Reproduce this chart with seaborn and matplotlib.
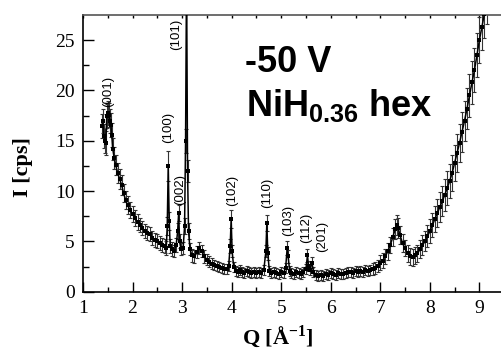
import matplotlib
matplotlib.use("Agg")
import matplotlib.pyplot as plt
import seaborn as sns
import numpy as np
import pandas as pd

# ---------------- data ----------------
q = [1.38, 1.40, 1.42, 1.44, 1.46, 1.48, 1.50, 1.52, 1.54, 1.56, 1.58, 1.60,
     1.63, 1.66, 1.70, 1.74, 1.78, 1.82, 1.86, 1.90, 1.95, 2.00, 2.05, 2.10,
     2.15, 2.20, 2.25, 2.30, 2.35, 2.40, 2.45, 2.50, 2.55, 2.60, 2.65, 2.68,
     2.70, 2.72, 2.74, 2.76, 2.80, 2.84, 2.88, 2.91, 2.93, 2.95, 2.98, 3.02,
     3.05, 3.07, 3.09, 3.11, 3.13, 3.16, 3.20, 3.25, 3.30, 3.35, 3.40, 3.45,
     3.50, 3.55, 3.60, 3.65, 3.70, 3.75, 3.80, 3.85, 3.90, 3.94, 3.97, 3.99,
     4.01, 4.04, 4.08, 4.12, 4.16, 4.20, 4.25, 4.30, 4.35, 4.40, 4.45, 4.50,
     4.55, 4.60, 4.65, 4.69, 4.71, 4.73, 4.76, 4.80, 4.85, 4.90, 4.95, 5.00,
     5.05, 5.09, 5.12, 5.14, 5.17, 5.20, 5.25, 5.30, 5.35, 5.40, 5.45, 5.50,
     5.53, 5.55, 5.58, 5.62, 5.65, 5.70, 5.75, 5.80, 5.85, 5.90, 5.95, 6.00,
     6.05, 6.10, 6.15, 6.20, 6.25, 6.30, 6.35, 6.40, 6.45, 6.50, 6.55, 6.60,
     6.65, 6.70, 6.75, 6.80, 6.85, 6.90, 6.95, 7.00, 7.05, 7.10, 7.15, 7.20,
     7.25, 7.30, 7.33, 7.36, 7.40, 7.45, 7.50, 7.55, 7.60, 7.65, 7.70, 7.75,
     7.80, 7.85, 7.90, 7.95, 8.00, 8.05, 8.10, 8.15, 8.20, 8.25, 8.30, 8.35,
     8.40, 8.45, 8.50, 8.55, 8.60, 8.65, 8.70, 8.75, 8.80, 8.85, 8.90, 8.95,
     9.00, 9.05, 9.10, 9.15, 9.20]

intensity = [16.5, 17.0, 15.5, 15.0, 14.8, 17.5, 17.8, 17.6, 17.0, 16.6, 15.6, 14.2,
     13.3, 12.6, 11.8, 11.2, 10.6, 9.8, 9.1, 8.6, 8.1, 7.7, 7.3, 6.9,
     6.6, 6.3, 6.0, 5.8, 5.7, 5.3, 5.1, 5.0, 4.8, 4.6, 4.5, 4.3,
     6.5, 12.5, 7.0, 4.5, 4.2, 4.0, 4.6, 6.0, 7.8, 5.0, 4.2, 4.3,
     6.5, 15.0, 32.0, 12.0, 6.0, 4.2, 3.6, 3.5, 3.9, 4.3, 4.0, 3.5,
     3.2, 3.0, 2.8, 2.7, 2.6, 2.5, 2.4, 2.3, 2.3, 2.6, 4.5, 7.2,
     4.0, 2.5, 2.1, 2.0, 2.2, 2.0, 1.9, 2.1, 2.0, 1.9, 2.0, 1.9,
     2.0, 1.9, 2.2, 4.0, 6.8, 3.8, 2.1, 1.9, 2.0, 1.9, 1.8, 2.0,
     1.9, 2.4, 4.3, 3.5, 2.1, 1.9, 1.8, 2.0, 1.9, 1.8, 2.0, 2.3,
     3.6, 2.6, 2.2, 2.9, 2.0, 1.7, 1.6, 1.7, 1.6, 1.8, 1.7, 1.9,
     1.8, 1.7, 1.9, 1.8, 1.8, 1.9, 2.0, 2.0, 1.9, 2.1, 2.0, 2.1,
     2.0, 2.2, 2.1, 2.2, 2.3, 2.4, 2.6, 2.9, 3.1, 3.5, 4.0, 4.6,
     5.4, 6.2, 6.6, 6.3, 5.6, 4.8, 4.3, 3.8, 3.5, 3.4, 3.6, 3.8,
     4.2, 4.6, 5.0, 5.5, 6.0, 6.6, 7.2, 7.8, 8.4, 9.0, 9.6, 10.3,
     11.0, 11.8, 12.8, 13.8, 14.8, 15.9, 17.0, 18.2, 19.5, 20.8, 22.0, 23.5,
     25.0, 26.3, 27.6, 29.0, 30.5]

err = [1.2, 1.2, 1.2, 1.2, 1.2, 1.2, 1.2, 1.2, 1.2, 1.2, 1.2, 1.1,
     1.1, 1.0, 1.0, 1.0, 1.0, 0.9, 0.9, 0.9, 0.8, 0.8, 0.8, 0.8,
     0.7, 0.7, 0.7, 0.7, 0.7, 0.7, 0.7, 0.7, 0.7, 0.7, 0.7, 0.7,
     0.9, 1.5, 0.9, 0.7, 0.7, 0.6, 0.7, 0.8, 0.8, 0.7, 0.6, 0.6,
     0.8, 1.2, 1.8, 1.1, 0.8, 0.6, 0.6, 0.6, 0.6, 0.6, 0.6, 0.6,
     0.5, 0.5, 0.5, 0.5, 0.5, 0.5, 0.5, 0.5, 0.5, 0.5, 0.7, 0.9,
     0.6, 0.5, 0.5, 0.5, 0.5, 0.5, 0.5, 0.5, 0.5, 0.5, 0.5, 0.5,
     0.5, 0.5, 0.5, 0.6, 0.8, 0.6, 0.5, 0.5, 0.5, 0.5, 0.5, 0.5,
     0.5, 0.5, 0.7, 0.6, 0.5, 0.5, 0.5, 0.5, 0.5, 0.5, 0.5, 0.5,
     0.6, 0.5, 0.5, 0.5, 0.5, 0.5, 0.5, 0.5, 0.5, 0.5, 0.5, 0.5,
     0.5, 0.5, 0.5, 0.5, 0.5, 0.5, 0.5, 0.5, 0.5, 0.5, 0.5, 0.5,
     0.5, 0.5, 0.5, 0.5, 0.6, 0.6, 0.6, 0.7, 0.7, 0.7, 0.8, 0.8,
     0.9, 1.0, 1.0, 1.0, 0.9, 0.9, 0.8, 0.8, 0.8, 0.8, 0.8, 0.8,
     0.9, 1.0, 1.0, 1.1, 1.2, 1.2, 1.3, 1.4, 1.5, 1.5, 1.6, 1.7,
     1.7, 1.8, 1.8, 1.9, 1.9, 2.0, 2.0, 2.0, 2.1, 2.1, 2.2, 2.2,
     2.3, 2.3, 2.4, 2.4, 2.5]

peak_labels = ["(001)", "(101)", "(100)", "(002)", "(102)", "(110)",
               "(103)", "(112)", "(201)"]
# annotation anchor points (Q, bottom of text in cps)
peak_label_q = [1.50, 2.88, 2.715, 2.96, 4.01, 4.71, 5.14, 5.51, 5.82]
peak_label_i = [18.4, 24.0, 14.8, 8.6, 8.5, 8.3, 5.5, 4.8, 3.9]

x_ticks = [1, 2, 3, 4, 5, 6, 7, 8, 9]
y_ticks = [0, 5, 10, 15, 20, 25]

df = pd.DataFrame({"Q": q, "I": intensity, "err": err})

# ---------------- styling ----------------
sns.set_theme(style="ticks")
plt.rcParams["font.family"] = ["Liberation Serif", "DejaVu Serif"]
plt.rcParams["text.color"] = "black"
plt.rcParams["axes.labelcolor"] = "black"
plt.rcParams["mathtext.fontset"] = "custom"
plt.rcParams["mathtext.bf"] = "Liberation Serif:bold"
plt.rcParams["mathtext.rm"] = "Liberation Serif"
plt.rcParams["mathtext.sf"] = "Liberation Sans:bold"

fig = plt.figure(figsize=(5.02, 3.52), dpi=100)
W, H = 502, 352
ax_left, ax_top, ax_bottom, ax_right = 83, 15, 291.7, 501.7
ax = fig.add_axes([ax_left / W, 1 - ax_bottom / H,
                   (ax_right - ax_left) / W, (ax_bottom - ax_top) / H])

ax.errorbar(df["Q"], df["I"], yerr=df["err"], fmt="none", ecolor="#333333",
            elinewidth=0.8, capsize=1.6, capthick=0.8, zorder=2)
sns.lineplot(data=df, x="Q", y="I", ax=ax, color="black", linewidth=1.1,
             marker="s", markersize=2.4, markeredgewidth=0, sort=False,
             zorder=3)

ax.set_xlim(1, 9.45)
ax.set_ylim(0, 27.5)
ax.set_xticks(x_ticks)
ax.set_yticks(y_ticks)
ax.set_xticks(np.arange(1.5, 9.5, 1.0), minor=True)
ax.set_yticks(np.arange(2.5, 27.5, 5.0), minor=True)
ax.tick_params(axis="both", which="both", direction="in", labelsize=14,
               width=1.0, color="black", labelcolor="black", pad=6)
ax.tick_params(axis="x", which="major", length=7)
ax.tick_params(axis="x", which="minor", length=3.5)
ax.tick_params(axis="y", which="major", length=8)
ax.tick_params(axis="y", which="minor", length=4)
ax.tick_params(axis="x", which="both", top=True)
for t in ax.xaxis.get_major_ticks() + ax.xaxis.get_minor_ticks():
    t.tick2line.set_markersize(2)
ax.spines["right"].set_visible(False)
for s in ["left", "bottom", "top"]:
    ax.spines[s].set_linewidth(1.2)
    ax.spines[s].set_color("black")
ax.spines["top"].set_color("#555555")

ax.set_xlabel(r"Q [Å$^{\mathbf{-1}}$]", fontsize=16, fontweight="bold")
ax.set_ylabel("I [cps]", fontsize=16, fontweight="bold")
ax.xaxis.set_label_coords((278 - ax_left) / (ax_right - ax_left), -0.115)
ax.yaxis.set_label_coords((33 - ax_left) / (ax_right - ax_left), 0.45)

for lab, xq, yi in zip(peak_labels, peak_label_q, peak_label_i):
    ax.text(xq, yi, lab, rotation=90, ha="center", va="bottom",
            fontsize=9.5, family="Liberation Sans", color="black")

ax.text((245 - ax_left) / (ax_right - ax_left), (ax_bottom - 72) / (ax_bottom - ax_top),
        "-50 V", transform=ax.transAxes, ha="left", va="baseline",
        fontsize=26, fontweight="bold", family="Liberation Sans", color="black")
ax.text((246 - ax_left) / (ax_right - ax_left), (ax_bottom - 116) / (ax_bottom - ax_top),
        r"NiH$_{\mathsf{0.36}}$ hex", transform=ax.transAxes, ha="left",
        va="baseline", fontsize=26, fontweight="bold", family="Liberation Sans",
        color="black")

fig.savefig("out.png", dpi=100)
